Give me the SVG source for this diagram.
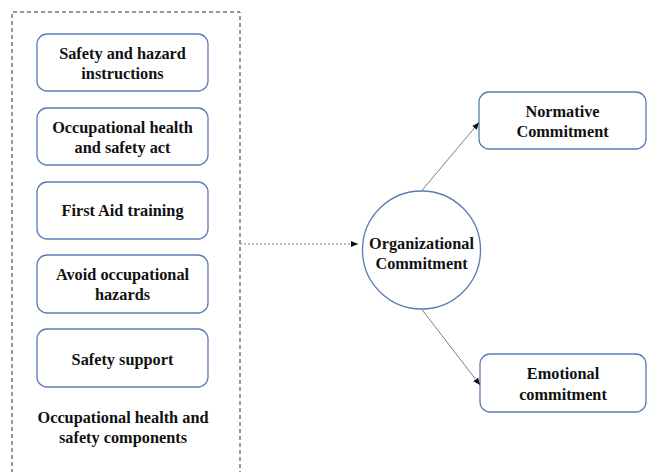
<svg xmlns="http://www.w3.org/2000/svg" width="648" height="472" viewBox="0 0 648 472">
<defs>
<style>
.box{fill:#fff;stroke:#5a7bb5;stroke-width:1.3}
text{font-family:'Liberation Serif','Times New Roman','DejaVu Serif',serif;font-weight:bold;font-size:16.3px;fill:#111;text-anchor:middle;dominant-baseline:central}
.con{stroke:#808080;stroke-width:1;fill:none}
</style>
<marker id="ah" markerWidth="8" markerHeight="8" refX="7" refY="4" orient="auto" markerUnits="userSpaceOnUse">
<path d="M0,1 L7,4 L0,7 Z" fill="#111"/>
</marker>
</defs>
<rect width="648" height="472" fill="#fff"/>
<g id="container">
<path d="M12,480 L12,12 L240,12 L240,480" fill="none" stroke="#333" stroke-width="1" stroke-dasharray="4,3"/>
<text x="123" y="417">Occupational health and</text>
<text x="123" y="437">safety components</text>
</g>
<g id="n1"><rect class="box" x="37" y="34" width="171" height="57" rx="10"/><text x="122.5" y="53">Safety and hazard</text><text x="122.5" y="73">instructions</text></g>
<g id="n2"><rect class="box" x="37" y="108" width="171" height="57" rx="10"/><text x="122.5" y="127">Occupational health</text><text x="122.5" y="147">and safety act</text></g>
<g id="n3"><rect class="box" x="37" y="182" width="171" height="57" rx="10"/><text x="122.5" y="210">First Aid training</text></g>
<g id="n4"><rect class="box" x="37" y="255" width="171" height="58" rx="10"/><text x="122.5" y="274">Avoid occupational</text><text x="122.5" y="294">hazards</text></g>
<g id="n5"><rect class="box" x="37" y="329" width="171" height="58" rx="10"/><text x="122.5" y="359">Safety support</text></g>
<g id="org"><circle class="box" cx="421.5" cy="250" r="59"/><text x="421.5" y="243">Organizational</text><text x="421.5" y="263">Commitment</text></g>
<g id="norm"><rect class="box" x="479" y="92" width="167" height="57" rx="10"/><text x="562.5" y="111">Normative</text><text x="562.5" y="131">Commitment</text></g>
<g id="emo"><rect class="box" x="480" y="354" width="166" height="58" rx="10"/><text x="563" y="373">Emotional</text><text x="563" y="394">commitment</text></g>
<g id="connectors">
<line class="con" x1="240" y1="244" x2="358" y2="244" stroke-dasharray="2,2" marker-end="url(#ah)"/>
<line class="con" x1="421.5" y1="191" x2="479" y2="122.5" marker-end="url(#ah)"/>
<line class="con" x1="421.5" y1="309" x2="480" y2="385" marker-end="url(#ah)"/>
</g>
</svg>
